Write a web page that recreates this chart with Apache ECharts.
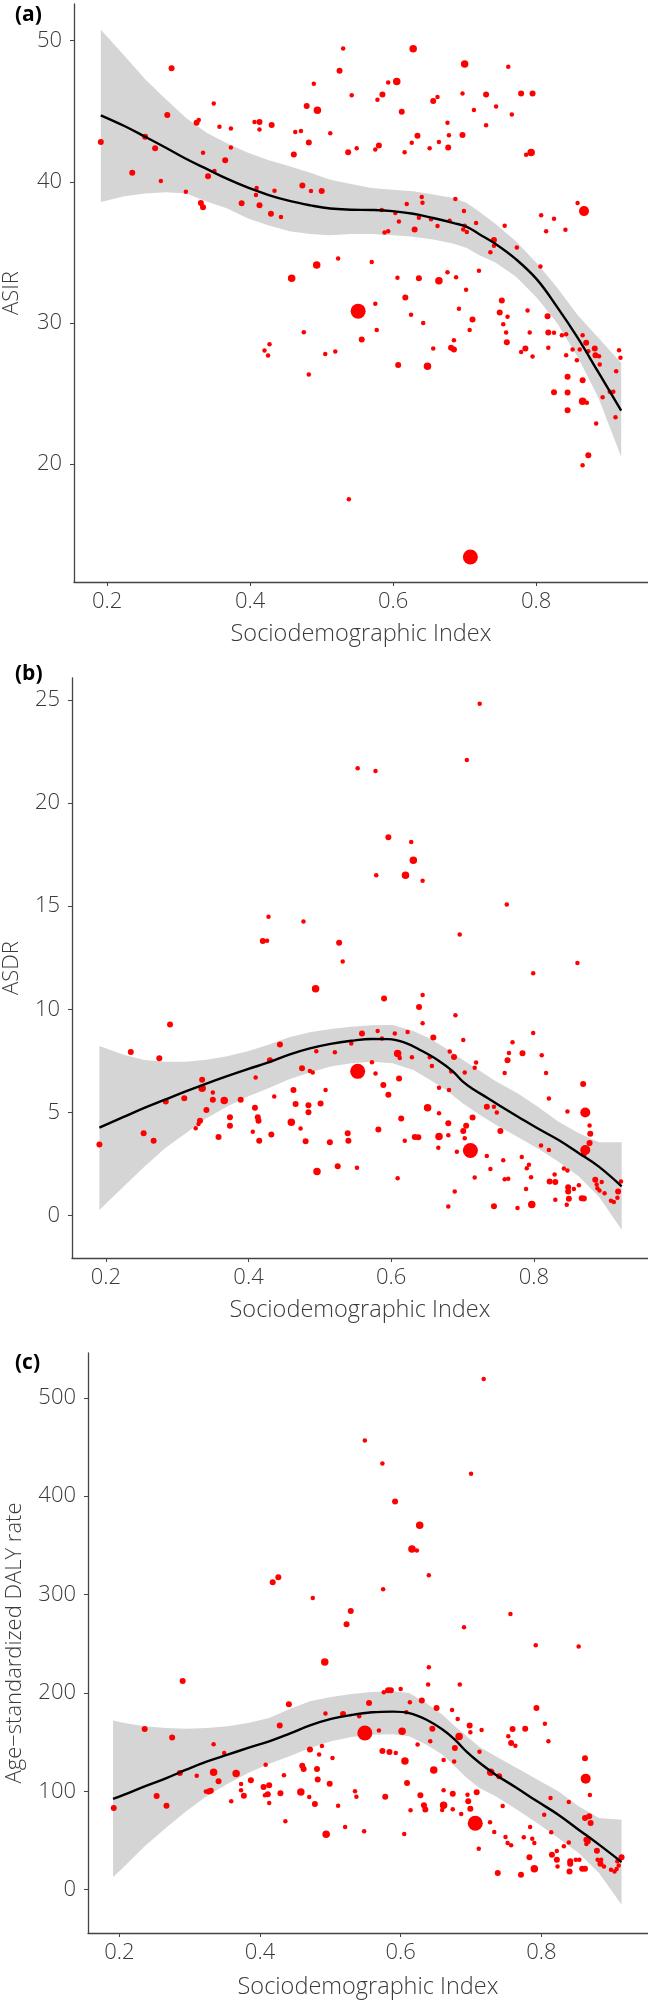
<!DOCTYPE html>
<html><head><meta charset="utf-8">
<script src="https://cdn.jsdelivr.net/npm/echarts@6/dist/echarts.min.js"></script>
<style>html,body{margin:0;padding:0;background:#fff}#c{width:648px;height:2003px}</style>
</head><body><div id="c"></div>
<script>
// ---------------- DATA ----------------
const xTicks = [0.2, 0.4, 0.6, 0.8];
const yTicksA = [20, 30, 40, 50];
const yTicksB = [0, 5, 10, 15, 20, 25];
const yTicksC = [0, 100, 200, 300, 400, 500];
const panelLabels = ['(a)', '(b)', '(c)'];
const xName = 'Sociodemographic Index';
const yNames = ['ASIR', 'ASDR', 'Age\u2212standardized DALY rate'];

// [SDI, value, population class 1..5]
const pointsA = [
[0.191,42.81,2],[0.290,48.05,2],[0.284,44.73,2],[0.349,45.54,1],[0.253,43.19,2],[0.267,42.38,2],[0.235,40.63,2],[0.275,40.06,1],
[0.310,39.30,1],[0.325,44.19,2],[0.328,44.38,1],[0.334,42.05,1],[0.341,40.39,2],[0.350,40.77,1],[0.357,43.90,1],[0.373,43.78,1],
[0.373,42.43,1],[0.365,41.53,2],[0.331,38.49,2],[0.334,38.19,2],[0.388,38.47,2],[0.406,44.24,1],[0.413,44.24,2],[0.413,43.71,1],
[0.430,44.02,2],[0.409,39.56,1],[0.408,39.06,1],[0.413,38.33,2],[0.429,37.73,2],[0.434,39.37,1],[0.443,37.50,1],[0.461,41.93,2],
[0.463,43.52,1],[0.471,43.59,1],[0.479,45.37,2],[0.489,46.94,1],[0.494,45.07,3],[0.482,42.79,2],[0.473,39.73,2],[0.485,39.35,1],
[0.500,39.35,2],[0.512,43.43,1],[0.525,47.86,2],[0.530,49.45,1],[0.542,46.13,1],[0.537,42.10,2],[0.549,42.38,1],[0.575,42.29,1],
[0.580,42.57,2],[0.578,45.82,1],[0.585,46.18,2],[0.593,47.03,1],[0.605,47.11,3],[0.628,49.43,3],[0.612,44.97,2],[0.616,42.10,1],
[0.626,42.76,1],[0.634,43.26,2],[0.651,42.38,1],[0.656,45.73,2],[0.662,46.01,1],[0.664,42.81,1],[0.676,44.19,1],[0.678,43.29,1],
[0.677,42.43,2],[0.697,43.31,2],[0.697,46.25,1],[0.700,48.34,3],[0.713,45.09,1],[0.730,46.18,2],[0.730,44.00,1],[0.744,45.33,1],
[0.761,48.15,1],[0.766,44.76,1],[0.779,46.25,2],[0.795,46.25,2],[0.786,41.91,1],[0.793,42.08,3],[0.858,38.49,1],[0.867,37.92,4],
[0.807,37.62,1],[0.825,37.38,1],[0.814,36.50,1],[0.841,36.60,1],[0.806,33.99,1],[0.773,35.34,1],[0.756,36.88,1],[0.741,35.88,2],
[0.741,35.46,1],[0.736,35.01,1],[0.716,37.07,1],[0.700,36.88,1],[0.698,36.62,1],[0.703,36.43,1],[0.699,37.92,1],[0.687,38.78,1],
[0.679,37.24,1],[0.662,36.86,1],[0.653,37.35,1],[0.636,37.45,1],[0.630,36.62,2],[0.640,38.92,1],[0.641,38.52,1],[0.619,38.42,1],
[0.603,37.78,1],[0.608,37.19,1],[0.584,38.00,1],[0.588,36.41,1],[0.593,36.50,1],[0.523,34.56,1],[0.570,34.32,1],[0.493,34.10,3],
[0.458,33.16,3],[0.606,33.20,1],[0.636,33.16,2],[0.664,32.99,3],[0.676,33.58,1],[0.688,33.23,1],[0.702,32.35,1],[0.720,33.70,1],
[0.617,31.80,2],[0.551,30.83,5],[0.575,31.35,1],[0.625,30.57,1],[0.692,31.00,1],[0.711,30.24,2],[0.642,29.98,1],[0.707,29.50,1],
[0.752,31.59,2],[0.749,30.74,2],[0.760,30.43,1],[0.754,29.90,1],[0.758,29.31,1],[0.788,30.88,1],[0.816,30.47,2],[0.817,29.31,2],
[0.825,29.29,1],[0.791,29.31,1],[0.836,29.12,1],[0.842,29.19,1],[0.865,29.12,1],[0.577,29.50,1],[0.475,29.34,1],[0.556,28.82,2],
[0.759,28.63,2],[0.685,28.77,1],[0.656,28.18,1],[0.681,28.23,2],[0.685,28.11,2],[0.779,27.94,1],[0.785,28.18,2],[0.795,27.61,1],
[0.817,28.23,1],[0.842,27.71,1],[0.851,28.11,1],[0.861,28.11,1],[0.870,28.58,2],[0.873,27.99,1],[0.882,28.18,2],[0.883,27.71,2],
[0.888,27.64,1],[0.857,27.35,1],[0.889,27.04,1],[0.916,28.06,1],[0.918,27.52,1],[0.912,26.57,1],[0.420,28.04,1],[0.427,28.49,1],
[0.425,27.68,1],[0.505,27.80,1],[0.519,27.97,1],[0.607,27.02,2],[0.648,26.93,3],[0.482,26.34,1],[0.844,26.17,2],[0.865,25.93,2],
[0.825,25.08,2],[0.844,25.06,2],[0.865,24.44,3],[0.871,24.33,1],[0.844,23.81,2],[0.903,25.11,1],[0.908,25.11,1],[0.893,24.73,1],
[0.911,23.31,1],[0.884,22.86,1],[0.873,20.61,2],[0.865,19.91,1],[0.538,17.49,1],[0.708,13.40,5]
];
// loess fit [SDI, fit] and band [SDI, lower, upper]
const fitA = [[0.191,44.71],[0.224,43.95],[0.253,43.19],[0.282,42.41],[0.310,41.63],[0.339,40.91],[0.368,40.20],[0.397,39.58],
[0.426,39.06],[0.455,38.64],[0.484,38.33],[0.512,38.10],[0.541,38.02],[0.570,38.00],[0.599,37.92],[0.628,37.73],[0.656,37.43],
[0.685,37.07],[0.703,36.80],[0.720,36.30],[0.743,35.60],[0.772,34.50],[0.801,33.08],[0.829,31.15],[0.858,28.95],[0.887,26.50],
[0.919,23.78]];
const bandA = [[0.191,38.56,50.78],[0.224,38.97,48.93],[0.253,39.16,47.27],[0.282,39.25,45.85],[0.310,39.16,44.54],[0.339,38.6,43.48],
[0.368,38.1,42.72],[0.397,37.4,42.05],[0.426,36.9,41.53],[0.455,36.5,41.10],[0.484,36.3,40.63],[0.512,36.2,40.15],[0.541,36.3,39.85],
[0.570,36.3,39.56],[0.599,36.2,39.44],[0.628,36.1,39.32],[0.656,35.9,39.09],[0.685,35.6,38.85],[0.703,35.3,38.49],[0.720,34.8,37.90],
[0.743,34.27,37.02],[0.772,33.27,35.77],[0.801,31.78,34.22],[0.829,30.0,32.52],[0.858,27.6,30.55],[0.887,24.7,28.94],[0.919,20.5,27.16]];

const pointsB = [
[0.724,24.81,1],[0.706,22.08,1],[0.553,21.68,1],[0.578,21.55,1],[0.596,18.34,2],[0.628,18.11,1],[0.631,17.23,3],[0.620,16.50,3],
[0.579,16.50,1],[0.644,16.23,1],[0.762,15.08,1],[0.428,14.48,1],[0.477,14.26,1],[0.420,13.31,2],[0.426,13.32,1],[0.527,13.23,2],
[0.696,13.63,1],[0.532,12.32,1],[0.861,12.24,1],[0.799,11.74,1],[0.494,11.00,3],[0.590,10.52,2],[0.644,10.69,1],[0.639,10.11,2],
[0.690,9.71,1],[0.290,9.26,2],[0.644,9.32,1],[0.235,7.93,2],[0.275,7.63,2],[0.191,3.44,2],[0.253,3.99,2],[0.267,3.62,2],
[0.284,5.53,2],[0.310,5.69,2],[0.326,4.23,1],[0.330,4.44,1],[0.332,4.60,2],[0.335,6.58,2],[0.335,6.17,3],[0.341,5.12,2],
[0.350,5.61,2],[0.350,5.96,1],[0.358,3.81,2],[0.366,5.57,3],[0.374,4.77,2],[0.374,4.35,2],[0.389,5.61,2],[0.409,5.22,2],
[0.410,6.69,1],[0.406,4.06,1],[0.413,4.77,2],[0.414,4.60,2],[0.415,3.63,2],[0.430,7.53,2],[0.432,3.93,2],[0.436,5.77,1],
[0.444,8.29,2],[0.460,4.52,3],[0.463,6.09,2],[0.466,5.41,2],[0.473,4.22,1],[0.475,7.14,2],[0.486,7.01,1],[0.490,6.93,1],
[0.484,5.35,2],[0.484,5.01,2],[0.480,3.60,2],[0.495,7.96,1],[0.501,5.43,2],[0.508,6.09,1],[0.496,2.13,3],[0.514,3.55,2],
[0.521,7.92,1],[0.525,2.39,2],[0.539,3.99,2],[0.540,3.62,2],[0.544,8.34,1],[0.553,6.99,5],[0.552,2.31,1],[0.559,8.82,2],
[0.573,7.43,1],[0.578,6.88,1],[0.581,8.95,1],[0.587,8.58,1],[0.589,6.33,2],[0.582,4.17,2],[0.596,5.86,2],[0.605,8.82,1],
[0.609,7.85,3],[0.612,7.64,1],[0.611,6.64,2],[0.623,8.90,1],[0.629,7.67,1],[0.614,4.70,2],[0.619,3.62,1],[0.609,1.81,1],
[0.633,3.81,2],[0.638,3.80,2],[0.651,5.23,3],[0.654,7.67,1],[0.659,8.63,2],[0.657,7.25,1],[0.667,6.19,1],[0.667,4.96,1],
[0.667,3.83,3],[0.666,3.28,1],[0.680,4.47,2],[0.680,3.89,1],[0.681,6.09,1],[0.682,7.95,1],[0.684,6.98,1],[0.688,7.69,2],
[0.689,1.16,1],[0.692,3.09,1],[0.680,0.44,1],[0.701,8.51,1],[0.703,6.93,1],[0.705,4.35,2],[0.701,4.10,2],[0.703,3.75,1],
[0.711,3.15,5],[0.714,4.75,2],[0.717,1.84,1],[0.719,7.42,1],[0.717,7.16,1],[0.734,5.27,2],[0.734,2.89,1],[0.739,2.26,1],
[0.744,0.45,2],[0.748,4.99,1],[0.744,5.27,1],[0.753,4.10,2],[0.757,2.68,1],[0.759,1.76,1],[0.764,1.78,1],[0.759,6.91,1],
[0.763,7.53,2],[0.765,7.88,1],[0.770,8.40,1],[0.777,0.36,1],[0.783,2.84,1],[0.784,7.87,2],[0.789,1.28,1],[0.790,2.29,1],
[0.793,2.46,1],[0.796,1.86,1],[0.797,0.53,3],[0.799,8.85,1],[0.810,3.39,1],[0.811,7.77,1],[0.817,6.91,1],[0.821,5.67,1],
[0.821,3.18,1],[0.822,1.65,2],[0.830,1.62,2],[0.829,1.99,1],[0.830,0.76,1],[0.842,2.28,1],[0.847,2.18,1],[0.847,5.04,1],
[0.846,0.52,1],[0.848,1.37,2],[0.848,1.16,2],[0.849,0.81,2],[0.856,1.29,1],[0.863,1.47,1],[0.869,6.38,2],[0.872,4.99,4],
[0.872,3.18,4],[0.870,2.99,2],[0.878,4.36,1],[0.879,3.96,2],[0.878,3.51,2],[0.867,0.84,2],[0.870,0.82,2],[0.886,1.73,2],
[0.888,1.50,1],[0.889,1.32,1],[0.892,1.21,1],[0.895,1.63,1],[0.899,1.08,1],[0.908,0.71,1],[0.912,0.65,1],[0.917,0.86,1],
[0.918,1.16,2],[0.922,1.65,1]
];
const fitB = [[0.191,4.26],[0.225,4.78],[0.254,5.22],[0.283,5.62],[0.312,6.02],[0.341,6.40],[0.370,6.76],[0.399,7.10],[0.428,7.42],
[0.457,7.80],[0.486,8.10],[0.515,8.32],[0.544,8.47],[0.573,8.56],[0.596,8.55],[0.619,8.38],[0.642,8.00],[0.666,7.52],[0.686,7.00],
[0.700,6.50],[0.715,6.12],[0.735,5.70],[0.758,5.20],[0.781,4.72],[0.805,4.23],[0.834,3.67],[0.863,3.02],[0.891,2.37],[0.923,1.41]];
const bandB = [[0.191,0.27,8.22],[0.225,1.41,7.79],[0.254,2.37,7.54],[0.283,3.26,7.45],[0.312,3.99,7.46],[0.341,4.72,7.55],
[0.370,5.28,7.72],[0.399,5.77,7.96],[0.428,6.17,8.28],[0.457,6.61,8.64],[0.486,6.93,8.88],[0.515,7.22,9.04],[0.544,7.38,9.15],
[0.573,7.45,9.22],[0.602,7.38,9.24],[0.631,7.06,8.95],[0.654,6.58,8.58],[0.677,6.09,8.10],[0.700,5.44,7.55],[0.724,4.88,7.02],
[0.747,4.39,6.50],[0.776,3.83,5.95],[0.805,3.26,5.28],[0.834,2.62,4.56],[0.863,1.89,3.99],[0.891,0.92,3.55],[0.923,-0.69,3.55]];

const pointsC = [
[0.718,519.0,1],[0.549,456.6,1],[0.574,433.2,1],[0.700,422.7,1],[0.592,394.6,2],[0.627,370.5,3],[0.616,346.4,3],[0.623,344.7,1],
[0.640,319.7,1],[0.426,317.6,2],[0.418,312.5,2],[0.575,305.4,1],[0.475,296.6,1],[0.529,283.4,2],[0.523,269.8,2],[0.756,280.3,1],
[0.690,266.8,1],[0.792,248.5,1],[0.853,247.1,1],[0.492,231.5,3],[0.640,226.1,1],[0.290,212.2,2],[0.639,208.5,1],[0.684,208.5,1],
[0.600,204.1,1],[0.582,202.7,2],[0.586,202.7,2],[0.576,200.7,1],[0.441,188.5,2],[0.555,189.8,2],[0.613,190.5,1],[0.630,192.2,2],
[0.651,184.7,2],[0.673,182.7,1],[0.793,184.7,2],[0.236,163.4,2],[0.275,154.6,2],[0.334,147.8,1],[0.349,139.0,1],[0.408,127.1,1],
[0.428,166.8,2],[0.493,179.0,1],[0.518,178.6,2],[0.541,176.3,1],[0.549,159.3,5],[0.569,161.7,1],[0.602,161.0,3],[0.608,180.3,1],
[0.645,163.7,2],[0.642,150.8,1],[0.624,147.5,1],[0.681,173.6,1],[0.698,166.8,2],[0.699,160.0,1],[0.715,162.4,1],[0.683,155.6,3],
[0.753,155.9,1],[0.759,163.4,2],[0.757,149.2,2],[0.763,146.4,1],[0.777,163.7,2],[0.805,168.8,1],[0.810,150.8,1],[0.677,144.1,2],
[0.712,140.3,1],[0.471,142.4,2],[0.488,146.1,1],[0.484,137.3,1],[0.503,133.9,1],[0.574,141.0,2],[0.584,140.0,2],[0.593,139.0,1],
[0.606,130.8,3],[0.661,131.9,1],[0.676,130.2,1],[0.647,121.7,3],[0.728,119.3,3],[0.740,115.3,2],[0.863,112.9,4],[0.862,133.6,2],
[0.286,118.6,2],[0.310,115.9,1],[0.334,119.3,3],[0.341,110.2,2],[0.366,118.0,3],[0.377,95.6,2],[0.387,111.2,2],[0.373,107.5,1],
[0.373,101.0,1],[0.405,104.4,2],[0.413,106.1,2],[0.407,95.9,1],[0.411,97.0,2],[0.413,88.1,1],[0.429,98.0,2],[0.434,116.3,1],
[0.436,69.5,1],[0.460,126.1,2],[0.462,122.7,2],[0.458,99.3,3],[0.470,94.2,1],[0.478,87.1,2],[0.481,122.7,2],[0.482,111.9,2],
[0.499,107.8,2],[0.494,56.3,3],[0.511,85.4,1],[0.521,63.7,1],[0.535,100.0,1],[0.537,94.6,1],[0.548,59.3,1],[0.578,94.6,2],
[0.609,108.5,2],[0.605,56.6,1],[0.614,80.7,1],[0.628,95.9,2],[0.633,85.8,2],[0.635,81.4,2],[0.661,101.0,1],[0.661,85.8,3],
[0.659,81.0,1],[0.674,97.6,2],[0.674,81.7,1],[0.686,77.0,1],[0.695,96.6,1],[0.696,89.8,2],[0.699,82.4,2],[0.708,99.0,2],
[0.706,67.5,5],[0.711,41.7,1],[0.727,68.5,1],[0.733,58.6,1],[0.749,53.6,1],[0.752,47.5,1],[0.757,45.1,1],[0.745,85.1,1],
[0.738,17.0,2],[0.771,15.3,2],[0.775,53.2,1],[0.784,63.7,1],[0.787,51.9,1],[0.790,47.5,1],[0.783,32.9,2],[0.790,21.4,3],
[0.804,76.3,1],[0.813,93.2,1],[0.814,58.3,1],[0.815,35.6,2],[0.822,30.5,2],[0.823,23.7,1],[0.822,39.3,1],[0.832,44.1,1],
[0.839,48.1,1],[0.839,89.2,1],[0.841,28.8,2],[0.841,26.4,2],[0.840,18.6,2],[0.849,30.5,1],[0.854,30.5,1],[0.858,21.4,2],
[0.862,21.4,2],[0.862,72.9,2],[0.868,74.6,2],[0.864,50.8,2],[0.866,49.2,2],[0.864,46.4,1],[0.869,96.3,1],[0.870,67.8,2],
[0.879,39.7,2],[0.880,30.5,1],[0.884,26.4,2],[0.885,30.5,1],[0.889,23.7,1],[0.899,20.3,1],[0.904,18.6,1],[0.907,21.0,1],
[0.910,24.7,1],[0.914,32.9,2],[0.908,28.8,1],[0.192,83.1,2],[0.253,95.3,2],[0.267,85.4,2],[0.323,99.7,1],[0.327,99.7,2],
[0.330,100.7,2],[0.359,89.8,1]
];
const fitC = [[0.191,92.2],[0.207,96.6],[0.236,105.1],[0.266,113.2],[0.295,122.0],[0.324,130.2],[0.354,137.3],[0.383,144.1],
[0.413,150.8],[0.442,158.6],[0.471,167.0],[0.501,173.6],[0.530,177.6],[0.559,180.3],[0.589,181.0],[0.612,179.5],[0.636,173.0],
[0.659,163.0],[0.677,152.5],[0.694,140.0],[0.712,129.0],[0.735,116.9],[0.765,103.4],[0.794,89.8],[0.824,76.3],[0.853,61.0],
[0.882,45.8],[0.914,28.1]];
const bandC = [[0.191,12.9,171.9],[0.207,23.7,169.5],[0.236,44.1,166.1],[0.266,62.7,164.4],[0.295,79.7,163.7],[0.324,94.9,164.4],
[0.354,107.8,166.1],[0.383,118.6,169.5],[0.413,128.1,174.6],[0.442,135.6,183.7],[0.471,144.1,191.5],[0.501,150.8,195.9],
[0.530,155.3,199.0],[0.559,157.6,201.0],[0.589,158.0,201.7],[0.612,155.9,200.0],[0.636,147.5,189.8],[0.659,137.3,178.0],
[0.677,125.4,166.1],[0.694,113.6,155.9],[0.712,103.4,145.1],[0.735,94.9,135.6],[0.765,81.4,123.7],[0.794,67.8,111.9],
[0.824,52.5,100.0],[0.853,37.3,84.7],[0.882,16.9,72.9],[0.914,-15.3,71.2]];

// ---------------- STYLE / LAYOUT ----------------
const FONT = "'Open Sans', 'Noto Sans', sans-serif";
const TXT = '#3a3a3a';
const AX = '#444444';
const SZ = {1: 4.5, 2: 6, 3: 7.5, 4: 10, 5: 15};

const grids = [
  {left: 74, top: 4, width: 574, height: 578},
  {left: 72, top: 678, width: 576, height: 580},
  {left: 88, top: 1353, width: 560, height: 580}
];
const xRanges = [[0.1535, 0.9565], [0.1526, 0.9599], [0.1554, 0.9516]];
const yRanges = [[11.63, 52.6], [-2.06, 26.06], [-44, 545.5]];
const yTicks = [yTicksA, yTicksB, yTicksC];
const yNameGaps = [51, 49, 62];
const xNameGaps = [40, 40, 42];
const labelTops = [5, 664, 1353];

const opt = {
  animation: false,
  backgroundColor: '#fff',
  textStyle: {fontFamily: FONT},
  title: panelLabels.map((t, i) => ({
    text: t, left: 15, top: labelTops[i], padding: 0,
    textStyle: {fontFamily: FONT, fontSize: 21, fontWeight: 'bold', color: '#000'}
  })),
  grid: grids.map(g => Object.assign({containLabel: false, outerBoundsMode: 'none'}, g)),
  xAxis: grids.map((g, i) => ({
    type: 'value', gridIndex: i, min: xRanges[i][0], max: xRanges[i][1],
    name: xName, nameLocation: 'middle', nameGap: xNameGaps[i],
    nameTextStyle: {fontFamily: FONT, fontSize: 23.5, fontWeight: 300, color: TXT},
    axisLine: {show: true, onZero: false, lineStyle: {color: AX, width: 1.3}},
    axisTick: {show: true, length: 4, customValues: xTicks, lineStyle: {color: AX, width: 1}},
    axisLabel: {customValues: xTicks, formatter: v => String(v), fontFamily: FONT, fontSize: 22,
      fontWeight: 300, color: TXT, margin: 9},
    splitLine: {show: false}
  })),
  yAxis: grids.map((g, i) => ({
    type: 'value', gridIndex: i, min: yRanges[i][0], max: yRanges[i][1],
    name: yNames[i], nameLocation: 'middle', nameGap: yNameGaps[i],
    nameTextStyle: {fontFamily: FONT, fontSize: 22, fontWeight: 300, color: TXT},
    axisLine: {show: true, onZero: false, lineStyle: {color: AX, width: 1.3}},
    axisTick: {show: true, length: 4, customValues: yTicks[i], lineStyle: {color: AX, width: 1}},
    axisLabel: {customValues: yTicks[i], formatter: v => String(v), fontFamily: FONT, fontSize: 22,
      fontWeight: 300, color: TXT, margin: 12},
    splitLine: {show: false}
  })),
  series: []
};

function ribbon(i, band) {
  return {
    type: 'custom', xAxisIndex: i, yAxisIndex: i, silent: true, z: 1,
    data: band, encode: {x: 0, y: [1, 2]},
    renderItem: (params, api) => {
      if (params.dataIndex !== 0) return null;
      const up = band.map(d => api.coord([d[0], d[2]]));
      const lo = band.map(d => api.coord([d[0], d[1]])).reverse();
      return {type: 'polygon', shape: {points: up.concat(lo)}, style: {fill: '#d5d5d5'}};
    }
  };
}
function scatter(i, pts) {
  return {
    type: 'scatter', xAxisIndex: i, yAxisIndex: i, z: 2, data: pts,
    symbolSize: d => SZ[d[2]],
    itemStyle: {color: '#ff0000', opacity: 1}
  };
}
function fitLine(i, fit) {
  return {
    type: 'line', xAxisIndex: i, yAxisIndex: i, z: 3, data: fit, smooth: 0.4,
    showSymbol: false, lineStyle: {color: '#000', width: 2.4}
  };
}
[[pointsA, fitA, bandA], [pointsB, fitB, bandB], [pointsC, fitC, bandC]].forEach((p, i) => {
  opt.series.push(ribbon(i, p[2]), scatter(i, p[0]), fitLine(i, p[1]));
});

const chart = echarts.init(document.getElementById('c'), null, {renderer: 'canvas'});
chart.setOption(opt);
</script></body></html>
